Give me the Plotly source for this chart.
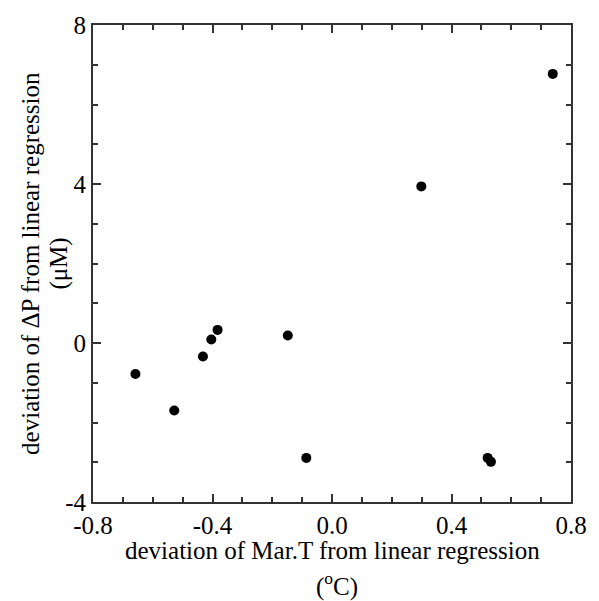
import plotly.graph_objects as go

x_dev = [-0.658, -0.528, -0.432, -0.404, -0.383, -0.148, -0.086, 0.299, 0.521, 0.532, 0.739]
y_dev = [-0.78, -1.70, -0.34, 0.09, 0.33, 0.19, -2.89, 3.94, -2.89, -2.99, 6.77]

x_ticks = [-0.8, -0.4, 0.0, 0.4, 0.8]
x_ticklabels = ["-0.8", "-0.4", "0.0", "0.4", "0.8"]
y_ticks = [-4, 0, 4, 8]
y_ticklabels = ["-4", "0", "4", "8"]

FONT = "Liberation Serif, Times New Roman, DejaVu Serif, serif"
FS = 25
fig = go.Figure()
fig.add_trace(go.Scatter(x=x_dev, y=y_dev, mode="markers",
                         marker=dict(color="black", size=10), showlegend=False))

axis_common = dict(showgrid=False, zeroline=False, showline=True, linecolor="#333",
                   linewidth=2, mirror="ticks", ticks="inside", ticklen=8, tickwidth=2,
                   tickcolor="#333", tickfont=dict(family=FONT, size=FS, color="black"))
fig.update_xaxes(range=[-0.8, 0.8], tickvals=x_ticks, ticktext=x_ticklabels, ticklabelstandoff=0,
                 minor=dict(ticks="inside", dtick=0.1, ticklen=5, tickwidth=1.5, tickcolor="#333"),
                 **axis_common)
fig.update_yaxes(range=[-4, 8], tickvals=y_ticks, ticktext=y_ticklabels, ticklabelstandoff=0,
                 minor=dict(ticks="inside", dtick=1, ticklen=5, tickwidth=1.5, tickcolor="#333"),
                 **axis_common)

ann_font = dict(family=FONT, size=FS, color="black")
fig.add_annotation(text="deviation of Mar.T from linear regression", xref="paper", yref="paper",
                   x=0.5, y=-0.102, showarrow=False, font=ann_font, xanchor="center", yanchor="middle")
fig.add_annotation(text="(<sup>o</sup>C)", xref="paper", yref="paper",
                   x=0.51, y=-0.172, showarrow=False, font=ann_font, xanchor="center", yanchor="middle")
fig.add_annotation(text="deviation of ΔP from linear regression", xref="paper", yref="paper",
                   x=-0.131, y=0.5, showarrow=False, font=ann_font, textangle=-90,
                   xanchor="center", yanchor="middle")
fig.add_annotation(text="(μM)", xref="paper", yref="paper",
                   x=-0.073, y=0.5, showarrow=False, font=ann_font, textangle=-90,
                   xanchor="center", yanchor="middle")

fig.update_layout(width=599, height=601, margin=dict(l=93, r=26, t=24, b=99),
                  plot_bgcolor="white", paper_bgcolor="white")
fig.write_html("out.html")
